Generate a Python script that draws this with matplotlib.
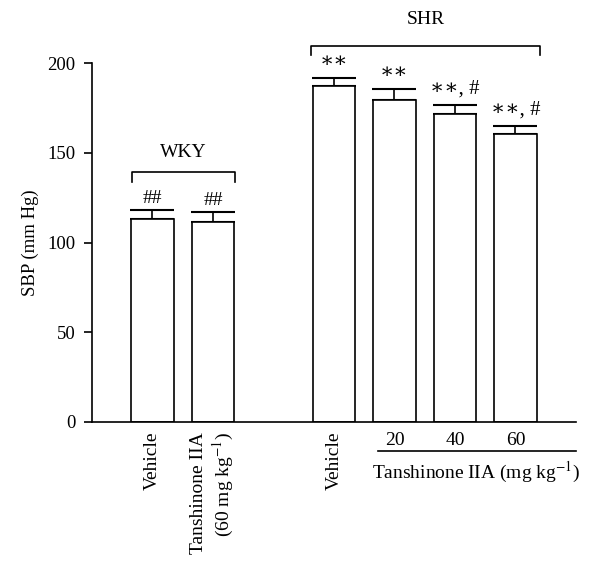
import numpy as np
import matplotlib
matplotlib.use('Agg')
import matplotlib.pyplot as plt

# SBP in the two rat strains
labels = ['Vehicle', 'Tanshinone IIA\n(60 mg kg$^{-1}$)', 'Vehicle', '20', '40', '60']
sbp = [113.1, 111.6, 187.4, 179.6, 171.4, 160.3]
sem = [4.8, 5.2, 4.3, 5.7, 5.2, 4.6]
marks = ['##', '##', '\u2217\u2217', '\u2217\u2217', '\u2217\u2217, #', '\u2217\u2217, #']
n_wky = 2

plt.rcParams['font.family'] = ['Liberation Serif', 'DejaVu Serif']
plt.rcParams['mathtext.fontset'] = 'stix'
plt.rcParams['font.size'] = 13.5

fig = plt.figure(figsize=(6, 5.75), dpi=100)
ax = fig.add_axes([0.1533, 0.2661, 0.8067, 0.6243])

# WKY bars at 0,1 then a one-bar gap before the SHR bars
x = np.array([i if i < n_wky else i + 1 for i in range(len(sbp))])
width = 0.71

ax.bar(x, sbp, width=width, color='white', edgecolor='black', linewidth=1.2, zorder=2)
ax.errorbar(x, sbp, yerr=[np.zeros(len(sem)), sem], fmt='none', ecolor='black',
            elinewidth=1.2, capsize=15.5, capthick=1.5, zorder=1)

for xi, v, e, m in zip(x, sbp, sem, marks):
    if m.startswith('#'):
        ax.text(xi, v + e + 2.0, m, ha='center', va='bottom', fontsize=14)
    else:
        ax.text(xi, v + e + 3.5, m, ha='center', va='bottom', fontsize=15)

ax.set_xlim(-1, 7)
ax.set_ylim(0, 200)
ax.set_yticks([0, 50, 100, 150, 200])
ax.set_ylabel('SBP (mm Hg)', labelpad=6)
ax.spines['top'].set_visible(False)
ax.spines['right'].set_visible(False)
ax.spines['left'].set_linewidth(1.2)
ax.spines['bottom'].set_linewidth(1.2)
ax.tick_params(axis='y', length=6, width=1.2, pad=6)
ax.tick_params(axis='x', length=0, pad=7, labelsize=14)

ax.set_xticks(x)
ax.set_xticklabels(labels)
for i, t in enumerate(ax.get_xticklabels()):
    if i <= n_wky:
        t.set_rotation(90)
        t.set_va('top')
        t.set_multialignment('right')

# dose line and label under the SHR treated bars
ax.plot([3.73, 7.0], [-16.2, -16.2], color='black', lw=1.2, clip_on=False)
ax.text(5.35, -28, 'Tanshinone IIA (mg kg$^{-1}$)', ha='center', va='center', fontsize=14)

# group brackets
def bracket(x0, x1, y, h, label, ty):
    ax.plot([x0, x0, x1, x1], [y - h, y, y, y - h], color='black', lw=1.2, clip_on=False)
    ax.text((x0 + x1) / 2, ty, label, ha='center', va='center', fontsize=14)

bracket(-0.34, 1.37, 139.1, 5.2, 'WKY', 150.4)
bracket(2.62, 6.40, 209.6, 5.1, 'SHR', 224)

fig.savefig('out.png', dpi=100)
